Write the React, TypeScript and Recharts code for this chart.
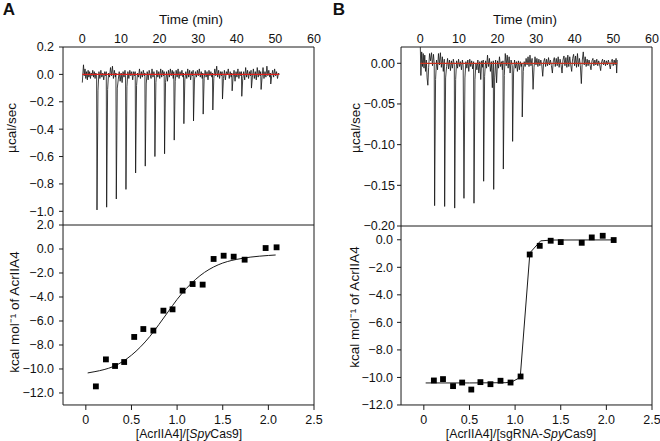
import React from "react"
import { ComposedChart, Line, Scatter, XAxis, YAxis, ZAxis } from "recharts"

// raw ITC traces, [time (min), µcal/sec]
const traceA: [number, number][] = [
  [0, -0.06], [0.15, 0.01], [0.3, 0.07], [0.5, -0.01], [0.7, 0.04], [0.9, -0.03], [1.1, 0.02], [1.3, -0.04], [1.5, 0.03], [1.7, -0.02],
  [1.9, 0.02], [2.1, -0.03], [2.3, 0.01], [2.5, -0.01], [2.7, 0.03], [2.9, -0.02], [3.1, 0.02], [3.3, -0.03], [3.5, 0.01], [3.7, -0.01],
  [3.8, -0.99], [4.05, -0.12],
  [4.3, 0.02], [4.55, -0.03], [4.8, 0.03], [5.05, -0.02], [5.3, 0.01], [5.55, -0.04], [5.8, 0.02], [6.05, -0.01], [6.2, 0.02],
  [6.3, -0.97], [6.55, -0.11],
  [6.8, 0.01], [7.05, -0.02], [7.3, 0.05], [7.55, -0.01], [7.8, 0.06], [8.05, -0.03], [8.3, 0.03], [8.55, -0.02], [8.7, 0.01],
  [8.8, -0.91], [9.05, -0.1],
  [9.3, -0.04], [9.55, 0.02], [9.8, -0.05], [10.05, 0.01], [10.3, -0.06], [10.55, 0.02], [10.8, -0.02], [11.05, 0.03], [11.2, -0.01],
  [11.3, -0.84], [11.55, -0.09],
  [11.8, 0.02], [12.05, -0.03], [12.3, 0.03], [12.55, -0.01], [12.8, 0.02], [13.05, -0.04], [13.3, 0.02], [13.55, -0.01], [13.7, 0.02],
  [13.8, -0.72], [14.05, -0.08],
  [14.3, 0.01], [14.55, -0.02], [14.8, 0.04], [15.05, -0.03], [15.3, 0.02], [15.55, -0.02], [15.8, 0.03], [16.05, -0.01], [16.2, 0.01],
  [16.3, -0.67], [16.55, -0.07],
  [16.8, 0.02], [17.05, -0.04], [17.3, 0.03], [17.55, 0.0], [17.8, -0.03], [18.05, 0.04], [18.3, -0.02], [18.55, 0.02], [18.7, -0.01],
  [18.8, -0.6], [19.05, -0.06],
  [19.3, 0.03], [19.55, -0.02], [19.8, 0.02], [20.05, -0.03], [20.3, 0.04], [20.55, -0.02], [20.8, 0.03], [21.05, -0.01], [21.2, 0.02],
  [21.3, -0.58], [21.55, -0.06],
  [21.8, 0.02], [22.05, -0.05], [22.3, 0.03], [22.55, -0.02], [22.8, 0.04], [23.05, -0.01], [23.3, 0.03], [23.55, -0.03], [23.7, 0.02],
  [23.8, -0.48], [24.05, -0.05],
  [24.3, 0.03], [24.55, -0.02], [24.8, 0.04], [25.05, -0.03], [25.3, 0.02], [25.55, -0.01], [25.8, 0.03], [26.05, -0.02], [26.2, 0.01],
  [26.3, -0.36], [26.55, -0.04],
  [26.8, 0.02], [27.05, -0.03], [27.3, 0.04], [27.55, -0.02], [27.8, 0.03], [28.05, -0.04], [28.3, 0.02], [28.55, -0.01], [28.7, 0.03],
  [28.8, -0.34], [29.05, -0.04],
  [29.3, 0.02], [29.55, -0.02], [29.8, 0.03], [30.05, -0.01], [30.3, 0.04], [30.55, -0.02], [30.8, 0.02], [31.05, -0.03], [31.2, 0.01],
  [31.3, -0.29], [31.55, -0.03],
  [31.8, 0.03], [32.05, -0.02], [32.3, 0.02], [32.55, -0.04], [32.8, 0.03], [33.05, -0.01], [33.3, 0.02], [33.55, -0.02], [33.7, 0.01],
  [33.8, -0.26], [34.05, -0.03],
  [34.3, 0.04], [34.55, -0.01], [34.8, 0.06], [35.05, -0.02], [35.3, 0.03], [35.55, -0.03], [35.8, 0.02], [36.05, -0.01], [36.2, 0.02],
  [36.3, -0.18], [36.55, -0.03],
  [36.8, 0.03], [37.05, -0.04], [37.3, 0.02], [37.55, 0.0], [37.8, 0.04], [38.05, -0.03], [38.3, 0.02], [38.55, -0.02], [38.7, 0.01],
  [38.8, -0.12], [39.05, -0.02],
  [39.3, 0.03], [39.55, -0.05], [39.8, 0.02], [40.05, -0.02], [40.3, 0.04], [40.55, -0.03], [40.8, 0.02], [41.05, -0.01], [41.2, 0.02],
  [41.3, -0.16], [41.55, -0.03],
  [41.8, 0.02], [42.05, -0.04], [42.3, 0.05], [42.55, -0.02], [42.8, 0.03], [43.05, -0.03], [43.3, 0.02], [43.55, -0.01], [43.7, 0.03],
  [43.8, -0.1], [44.05, -0.02],
  [44.3, 0.04], [44.55, -0.03], [44.8, 0.02], [45.05, -0.04], [45.3, 0.05], [45.55, -0.02], [45.8, 0.03], [46.05, -0.01], [46.2, 0.02],
  [46.3, -0.11], [46.55, -0.02],
  [46.8, 0.05], [47.05, -0.03], [47.3, 0.02], [47.55, -0.02], [47.8, 0.06], [48.05, -0.01], [48.3, 0.03], [48.55, -0.02], [48.7, 0.01],
  [48.8, -0.07], [49.05, -0.01],
  [49.3, 0.03], [49.55, -0.02], [49.8, 0.04], [50.05, -0.01], [50.3, 0.02], [50.55, -0.03], [50.8, 0.01], [51.0, 0.0],
]

const traceB: [number, number][] = [
  [0, 0.02], [0.15, -0.015], [0.35, 0.014], [0.55, -0.004], [0.75, 0.012], [0.95, -0.006], [1.15, 0.01], [1.35, -0.01], [1.55, 0.004],
  [1.75, -0.018], [1.95, -0.027], [2.15, -0.005], [2.4, 0.012], [2.65, 0.003], [2.9, 0.013], [3.15, -0.003], [3.4, 0.011], [3.6, 0.0],
  [3.7, -0.175], [3.95, -0.02],
  [4.2, 0.004], [4.45, -0.008], [4.7, 0.012], [4.95, -0.002], [5.2, 0.013], [5.45, -0.005], [5.7, 0.008], [5.95, -0.01], [6.2, 0.005],
  [6.3, -0.176], [6.55, -0.018],
  [6.8, -0.004], [7.05, 0.006], [7.3, -0.007], [7.55, 0.004], [7.8, -0.009], [8.05, 0.003], [8.3, -0.006], [8.55, 0.005], [8.8, -0.002],
  [8.9, -0.178], [9.15, -0.02],
  [9.4, 0.003], [9.65, -0.006], [9.9, 0.005], [10.15, -0.004], [10.4, 0.002], [10.65, -0.008], [10.9, 0.004], [11.1, -0.003],
  [11.3, -0.166], [11.55, -0.018],
  [11.8, 0.002], [12.05, -0.006], [12.3, 0.004], [12.55, -0.01], [12.8, 0.005], [13.05, -0.004], [13.3, 0.003], [13.55, -0.007], [13.8, 0.002],
  [13.9, -0.172], [14.15, -0.02],
  [14.4, 0.0], [14.65, -0.008], [14.9, 0.004], [15.15, -0.012], [15.4, 0.002], [15.65, -0.02], [15.9, 0.003], [16.15, -0.005], [16.3, 0.004],
  [16.4, -0.145], [16.65, -0.016],
  [16.9, 0.003], [17.15, -0.006], [17.4, 0.01], [17.65, -0.004], [17.9, 0.006], [18.15, -0.01], [18.4, 0.002], [18.65, -0.03], [18.9, 0.003],
  [19.0, -0.155], [19.25, -0.018],
  [19.5, 0.004], [19.75, -0.024], [20.0, 0.003], [20.25, -0.006], [20.5, 0.008], [20.75, -0.004], [21.0, 0.002], [21.25, -0.008], [21.4, 0.003],
  [21.5, -0.13], [21.75, -0.015],
  [22.0, 0.012], [22.25, -0.003], [22.5, 0.01], [22.75, -0.006], [23.0, 0.008], [23.25, -0.012], [23.5, 0.004], [23.8, -0.003],
  [23.9, -0.096], [24.15, -0.012],
  [24.4, 0.004], [24.65, -0.006], [24.9, 0.002], [25.15, -0.01], [25.4, 0.003], [25.65, -0.008], [25.9, 0.002], [26.15, -0.004], [26.3, 0.0],
  [26.4, -0.066], [26.65, -0.01],
  [26.9, 0.002], [27.15, -0.004], [27.4, 0.006], [27.65, -0.002], [27.9, 0.008], [28.15, -0.004], [28.4, 0.01], [28.65, -0.003], [28.95, 0.006],
  [29.2, -0.032], [29.45, -0.005],
  [29.7, 0.008], [29.95, -0.002], [30.2, 0.006], [30.45, -0.004], [30.7, 0.005], [30.95, -0.003], [31.2, 0.004], [31.45, -0.002],
  [31.7, -0.016], [31.95, 0.002],
  [32.2, 0.006], [32.45, -0.004], [32.7, 0.005], [32.95, -0.003], [33.2, 0.007], [33.45, -0.002], [33.7, 0.004], [33.95, -0.003],
  [34.2, -0.012], [34.45, 0.003],
  [34.7, 0.007], [34.95, -0.004], [35.2, 0.006], [35.45, -0.003], [35.7, 0.008], [35.95, -0.005], [36.2, 0.005], [36.45, -0.002],
  [36.7, -0.012], [36.95, 0.004],
  [37.2, 0.009], [37.45, -0.003], [37.7, 0.007], [37.95, -0.005], [38.2, 0.01], [38.45, -0.004], [38.7, 0.008], [38.95, -0.002],
  [39.2, -0.01], [39.45, 0.006],
  [39.7, 0.011], [39.95, -0.003], [40.2, 0.009], [40.45, -0.005], [40.7, 0.012], [40.95, -0.004], [41.2, 0.006], [41.45, -0.003],
  [41.7, -0.025], [41.95, 0.004],
  [42.2, 0.014], [42.45, -0.002], [42.7, 0.008], [42.95, -0.004], [43.2, 0.005], [43.45, -0.003], [43.7, 0.004], [43.95, -0.002],
  [44.2, -0.008], [44.45, 0.003],
  [44.7, 0.006], [44.95, -0.003], [45.2, 0.004], [45.45, -0.002], [45.7, 0.005], [45.95, -0.003], [46.2, 0.003], [46.45, -0.002],
  [46.7, -0.009], [46.95, 0.002],
  [47.2, 0.005], [47.45, -0.002], [47.7, 0.004], [47.95, -0.003], [48.2, 0.003], [48.45, -0.002], [48.7, 0.004], [48.95, -0.001],
  [49.2, -0.007], [49.45, 0.002],
  [49.7, 0.005], [49.95, -0.003], [50.2, 0.004], [50.45, -0.002], [50.7, 0.006], [50.85, -0.012], [51.0, 0.004],
]

// baselines (red)
const baseTime = [0, 51]
const baseHeat = [0, 0]

// integrated heats, molar ratio vs kcal/mol
const ratioA = [0.11, 0.22, 0.32, 0.42, 0.53, 0.63, 0.74, 0.85, 0.95, 1.06, 1.17, 1.28, 1.4, 1.51, 1.62, 1.74, 1.97, 2.09]
const heatA = [-11.45, -9.2, -9.75, -9.42, -7.33, -6.67, -6.8, -5.14, -5.03, -3.47, -2.92, -2.97, -0.83, -0.56, -0.64, -0.89, 0.08, 0.14]
const fitRatioA = [0.02, 0.1, 0.2, 0.3, 0.4, 0.5, 0.6, 0.7, 0.8, 0.9, 1.0, 1.1, 1.2, 1.3, 1.4, 1.5, 1.6, 1.7, 1.8, 1.9, 2.0, 2.08]
const fitHeatA = [-10.33, -10.22, -10.05, -9.8, -9.4, -8.85, -8.15, -7.3, -6.3, -5.25, -4.2, -3.3, -2.55, -1.95, -1.5, -1.17, -0.95, -0.8, -0.68, -0.6, -0.54, -0.5]

const ratioB = [0.11, 0.21, 0.32, 0.42, 0.52, 0.62, 0.73, 0.84, 0.95, 1.06, 1.16, 1.27, 1.39, 1.5, 1.73, 1.84, 1.96, 2.08]
const heatB = [-10.22, -10.12, -10.63, -10.37, -10.88, -10.34, -10.49, -10.24, -10.37, -9.93, -1.07, -0.44, -0.07, -0.17, -0.22, 0.17, 0.29, -0.02]
const fitRatioB = [0.02, 0.5, 0.9, 0.97, 1.056, 1.162, 1.28, 1.4, 2.08]
const fitHeatB = [-10.4, -10.4, -10.38, -10.3, -10.0, -0.95, -0.08, -0.02, -0.01]

const timeTicks = [0, 10, 20, 30, 40, 50, 60]
const timeMinor = [5, 15, 25, 35, 45, 55]
const ratioTicks = [0, 0.5, 1.0, 1.5, 2.0, 2.5]
const ratioMinor = [0.25, 0.75, 1.25, 1.75, 2.25]
const heatTicksA = [0.2, 0, -0.2, -0.4, -0.6, -0.8, -1.0]
const heatMinorA = [0.1, -0.1, -0.3, -0.5, -0.7, -0.9]
const heatTicksB = [0, -0.05, -0.1, -0.15, -0.2]
const heatMinorB = [-0.025, -0.075, -0.125, -0.175]
const kcalTicksA = [2, 0, -2, -4, -6, -8, -10, -12]
const kcalTicksB = [0, -2, -4, -6, -8, -10, -12]
const kcalMinor = [1, -1, -3, -5, -7, -9, -11]

const INK = "#1a1a1a"
const THIN = 0.01 // axes need a non-zero size to render
const line = { stroke: INK, strokeWidth: 1 }
const tickText = { fill: "#111", fontSize: 12.5 }

const fmt = (d: number) => (v: number) => {
  const s = Math.abs(v).toFixed(d)
  return v < 0 && Number(s) !== 0 ? "\u2212" + s : s
}
const fmtRatio = (v: number) => (v === 0 ? "0" : v.toFixed(1))

const pairs = (xs: number[], ys: number[]) => xs.map((x, i) => ({ x, y: ys[i] }))
const traceRows = (tr: [number, number][]) => tr.map(([x, y]) => ({ x, y }))

type Box = { left: number; right: number; top: number; bottom: number }

function RawPanel({ box, trace, baseColor, domain, ticks, minor, digits, gap }: {
  box: Box; trace: [number, number][]; baseColor: string; domain: [number, number]
  ticks: number[]; minor: number[]; digits: number; gap: number
}) {
  return (
    <ComposedChart width={330} height={441} margin={{ top: box.top, left: box.left, right: 330 - box.right, bottom: 441 - box.bottom }}>
      <XAxis xAxisId="t" dataKey="x" type="number" orientation="top" domain={[-5, 60]} ticks={timeTicks} interval={0}
        height={THIN} tickSize={0} tickMargin={4} tickLine={false} axisLine={line} tick={tickText} allowDataOverflow />
      <XAxis xAxisId="tMaj" type="number" orientation="top" mirror domain={[-5, 60]} ticks={timeTicks} interval={0}
        height={THIN} tickSize={4} tick={false} axisLine={false} tickLine={line} allowDataOverflow />
      <XAxis xAxisId="tMin" type="number" orientation="top" mirror domain={[-5, 60]} ticks={timeMinor} interval={0}
        height={THIN} tickSize={2} tick={false} axisLine={false} tickLine={line} allowDataOverflow />
      <YAxis yAxisId="h" dataKey="y" type="number" domain={domain} ticks={ticks} interval={0} width={THIN}
        tickSize={4} tickMargin={gap} tickLine={line} axisLine={line} tick={tickText} tickFormatter={fmt(digits)} allowDataOverflow />
      <YAxis yAxisId="hMin" type="number" domain={domain} ticks={minor} interval={0} width={THIN}
        tickSize={2} tick={false} axisLine={false} tickLine={line} allowDataOverflow />
      <YAxis yAxisId="hR" type="number" orientation="right" mirror domain={domain} ticks={ticks} interval={0} width={THIN}
        tickSize={4} tick={false} axisLine={line} tickLine={line} allowDataOverflow />
      <YAxis yAxisId="hRMin" type="number" orientation="right" mirror domain={domain} ticks={minor} interval={0} width={THIN}
        tickSize={2} tick={false} axisLine={false} tickLine={line} allowDataOverflow />
      <Line xAxisId="t" yAxisId="h" data={traceRows(trace)} dataKey="y" type="linear" stroke="#111" strokeWidth={0.8}
        dot={false} isAnimationActive={false} />
      <Line xAxisId="t" yAxisId="h" data={pairs(baseTime, baseHeat)} dataKey="y" type="linear" stroke={baseColor}
        strokeWidth={1.2} dot={false} isAnimationActive={false} />
    </ComposedChart>
  )
}

function FitPanel({ box, ratio, heat, fitX, fitY, domain, ticks, gap, curve }: {
  box: Box; ratio: number[]; heat: number[]; fitX: number[]; fitY: number[]
  domain: [number, number]; ticks: number[]; gap: number; curve: "monotone" | "linear"
}) {
  return (
    <ComposedChart width={330} height={441} margin={{ top: box.top, left: box.left, right: 330 - box.right, bottom: 441 - box.bottom }}>
      <XAxis xAxisId="c" dataKey="x" type="number" domain={[-0.25, 2.5]} ticks={ratioTicks} interval={0} height={THIN}
        tickSize={5} tickMargin={5} tickLine={line} axisLine={line} tick={tickText} tickFormatter={fmtRatio} allowDataOverflow />
      <XAxis xAxisId="cMin" type="number" domain={[-0.25, 2.5]} ticks={ratioMinor} interval={0} height={THIN}
        tickSize={3} tick={false} axisLine={false} tickLine={line} allowDataOverflow />
      <XAxis xAxisId="cTop" type="number" orientation="top" mirror domain={[-0.25, 2.5]} ticks={ratioTicks} interval={0} height={THIN}
        tickSize={5} tick={false} axisLine={line} tickLine={line} allowDataOverflow />
      <XAxis xAxisId="cTopMin" type="number" orientation="top" mirror domain={[-0.25, 2.5]} ticks={ratioMinor} interval={0} height={THIN}
        tickSize={3} tick={false} axisLine={false} tickLine={line} allowDataOverflow />
      <YAxis yAxisId="k" dataKey="y" type="number" domain={domain} ticks={ticks} interval={0} width={THIN}
        tickSize={4} tickMargin={gap} tickLine={line} axisLine={line} tick={tickText} tickFormatter={fmt(1)} allowDataOverflow />
      <YAxis yAxisId="kMin" type="number" domain={domain} ticks={kcalMinor} interval={0} width={THIN}
        tickSize={2} tick={false} axisLine={false} tickLine={line} allowDataOverflow />
      <YAxis yAxisId="kR" type="number" orientation="right" mirror domain={domain} ticks={ticks} interval={0} width={THIN}
        tickSize={4} tick={false} axisLine={line} tickLine={line} allowDataOverflow />
      <YAxis yAxisId="kRMin" type="number" orientation="right" mirror domain={domain} ticks={kcalMinor} interval={0} width={THIN}
        tickSize={2} tick={false} axisLine={false} tickLine={line} allowDataOverflow />
      <ZAxis range={[34, 34]} />
      <Line xAxisId="c" yAxisId="k" data={pairs(fitX, fitY)} dataKey="y" type={curve} stroke={INK} strokeWidth={1}
        dot={false} isAnimationActive={false} />
      <Scatter xAxisId="c" yAxisId="k" data={pairs(ratio, heat)} dataKey="y" shape="square" fill="#000"
        isAnimationActive={false} />
    </ComposedChart>
  )
}

function Text({ x, y, size = 13.5, rotate = false, bold = false, children }: {
  x: number; y: number; size?: number; rotate?: boolean; bold?: boolean; children: React.ReactNode
}) {
  return (
    <div style={{
      position: "absolute", left: x, top: y, whiteSpace: "nowrap", fontSize: size, lineHeight: 1,
      fontWeight: bold ? 700 : 400, color: "#111",
      transform: `translate(-50%, -50%)${rotate ? " rotate(-90deg)" : ""}`,
    }}>
      {children}
    </div>
  )
}

export default function App() {
  return (
    <div style={{ position: "absolute", left: 0, top: 0, width: 660, height: 441, background: "#fff",
      fontFamily: '"Liberation Sans", Arial, sans-serif' }}>
      <div style={{ position: "absolute", left: 0, top: 0 }}>
        <RawPanel box={{ left: 63, right: 314, top: 47, bottom: 225 }} trace={traceA} baseColor="#e0201b"
          domain={[-1.1, 0.2]} ticks={heatTicksA} minor={heatMinorA} digits={1} gap={5} />
      </div>
      <div style={{ position: "absolute", left: 0, top: 0 }}>
        <FitPanel box={{ left: 63, right: 314, top: 225, bottom: 405 }} ratio={ratioA} heat={heatA}
          fitX={fitRatioA} fitY={fitHeatA} domain={[-13, 2]} ticks={kcalTicksA} gap={5} curve="monotone" />
      </div>
      <div style={{ position: "absolute", left: 330, top: 0 }}>
        <RawPanel box={{ left: 71, right: 322, top: 47, bottom: 226 }} trace={traceB} baseColor="#c8321e"
          domain={[-0.2, 0.02]} ticks={heatTicksB} minor={heatMinorB} digits={2} gap={2} />
      </div>
      <div style={{ position: "absolute", left: 330, top: 0 }}>
        <FitPanel box={{ left: 71, right: 322, top: 226, bottom: 405 }} ratio={ratioB} heat={heatB}
          fitX={fitRatioB} fitY={fitHeatB} domain={[-12, 1]} ticks={kcalTicksB} gap={4} curve="linear" />
      </div>

      <Text x={9} y={9} size={17} bold>A</Text>
      <Text x={339} y={9} size={17} bold>B</Text>
      <Text x={191} y={20}>Time (min)</Text>
      <Text x={525} y={20}>Time (min)</Text>
      <Text x={12} y={128} rotate>µcal/sec</Text>
      <Text x={356} y={128} rotate>µcal/sec</Text>
      <Text x={15} y={312} rotate>kcal mol⁻¹ of AcrIIA4</Text>
      <Text x={355} y={307} rotate>kcal mol⁻¹ of AcrIIA4</Text>
      <Text x={189} y={434} size={12.2}>[AcrIIA4]/[<i>Spy</i>Cas9]</Text>
      <Text x={521} y={434} size={12.3}>[AcrIIA4]/[sgRNA-<i>Spy</i>Cas9]</Text>
    </div>
  )
}
